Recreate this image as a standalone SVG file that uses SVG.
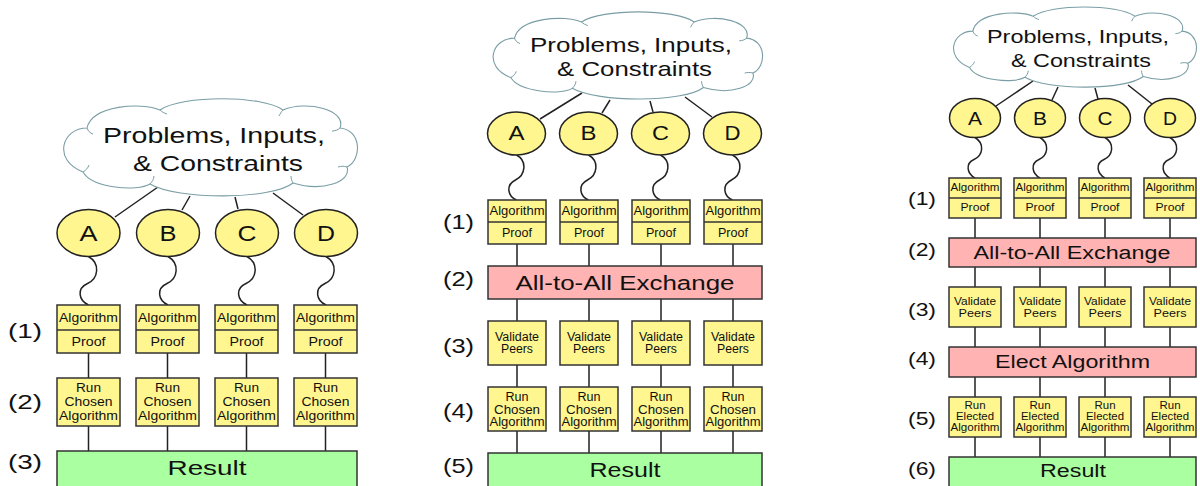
<svg xmlns="http://www.w3.org/2000/svg" xmlns:xlink="http://www.w3.org/1999/xlink" width="1200" height="486" viewBox="0 0 1200 486">
<style>
  text { font-family: "Liberation Sans", Arial, sans-serif; fill: #111; text-anchor: middle; }
  text.lbl { text-anchor: start; }
  .cloud { fill: #fff; stroke: #7a9ea6; stroke-width: 1.1; }
  .bump { fill: none; stroke: #7a9ea6; stroke-width: 1; }
  .circ { fill: #fff68f; stroke: #222; stroke-width: 1.5; }
  .box { fill: #fff68f; stroke: #333; stroke-width: 1.5; }
  .div { stroke: #333; stroke-width: 1.5; }
  .pink { fill: #ffb3b3; stroke: #333; stroke-width: 1.5; }
  .green { fill: #aaffa0; stroke: #333; stroke-width: 1.5; }
  .wire { stroke: #222; stroke-width: 1.5; fill: none; }
</style>
<defs>
  <g id="cloudShape">
    <path class="cloud" vector-effect="non-scaling-stroke" d="M30,28 C5,28 -5,60 26,72 C35,88 80,92 93,84 C120,100 215,100 236,83 C265,92 295,82 290,67 C305,60 305,30 283,28 C290,10 250,0 226,10 C205,-5 125,-5 103,10 C85,2 35,5 30,28 Z"/>
    <path class="bump" vector-effect="non-scaling-stroke" d="M30,28 c1,3 3,5 6,6 M93,84 c2,-2 4,-5 4,-8 M236,83 c-1,-2 -2,-4 -2,-7 M283,28 c-2,2 -5,3 -8,3 M226,10 c-2,2 -3,4 -4,6 M103,10 c2,2 4,3 7,4 M290,67 c-3,-1 -6,-1 -9,0 M26,72 c3,-2 5,-4 6,-7"/>
  </g>
</defs>

<!-- ===== Left flow ===== -->
<g id="p1-connectors">
  <path class="wire" d="M115,217 L158,187 M182,210 L190,196 M238,209 L235,197 M303,215 L273,193"/>
  <path class="wire" d="M88.5,256.5 c12,7 10,22 -1,27 c-11,5 -9,17 1,21.5"/>
  <path class="wire" d="M168,256.5 c12,7 10,22 -1,27 c-11,5 -9,17 1,21.5"/>
  <path class="wire" d="M247,256.5 c12,7 10,22 -1,27 c-11,5 -9,17 1,21.5"/>
  <path class="wire" d="M326,256.5 c12,7 10,22 -1,27 c-11,5 -9,17 1,21.5"/>
  <path class="wire" d="M88.5,353 V378 M167.5,353 V378 M246.5,353 V378 M325.5,353 V378"/>
  <path class="wire" d="M88.5,426 V451 M167.5,426 V451 M246.5,426 V451 M325.5,426 V451"/>
</g>
<g id="p1-cloud">
  <use xlink:href="#cloudShape" transform="translate(57,100)"/>
  <text x="214" y="143" font-size="22" textLength="222" lengthAdjust="spacingAndGlyphs">Problems, Inputs,</text>
  <text x="218" y="171" font-size="22" textLength="170" lengthAdjust="spacingAndGlyphs">&amp; Constraints</text>
</g>
<g id="p1-A"><ellipse class="circ" cx="88.5" cy="233" rx="31.5" ry="23.5"/><text x="88.5" y="241" font-size="22" textLength="18" lengthAdjust="spacingAndGlyphs">A</text></g>
<g id="p1-B"><ellipse class="circ" cx="168" cy="233" rx="31.5" ry="23.5"/><text x="168" y="241" font-size="22" textLength="17" lengthAdjust="spacingAndGlyphs">B</text></g>
<g id="p1-C"><ellipse class="circ" cx="247" cy="233" rx="31.5" ry="23.5"/><text x="247" y="241" font-size="22" textLength="19" lengthAdjust="spacingAndGlyphs">C</text></g>
<g id="p1-D"><ellipse class="circ" cx="326" cy="233" rx="31.5" ry="23.5"/><text x="326" y="241" font-size="22" textLength="18" lengthAdjust="spacingAndGlyphs">D</text></g>
<g id="p1-labels">
  <text class="lbl" x="8" y="338" font-size="21" textLength="34" lengthAdjust="spacingAndGlyphs">(1)</text>
  <text class="lbl" x="8" y="409" font-size="21" textLength="34" lengthAdjust="spacingAndGlyphs">(2)</text>
  <text class="lbl" x="8" y="469" font-size="21" textLength="34" lengthAdjust="spacingAndGlyphs">(3)</text>
</g>
<g id="p1-alg-A"><rect class="box" x="57" y="305" width="63" height="48"/><line class="div" x1="57" y1="330" x2="120" y2="330"/>
  <text x="88.5" y="322" font-size="12.5" textLength="59" lengthAdjust="spacingAndGlyphs">Algorithm</text><text x="88.5" y="346" font-size="12.5" textLength="34" lengthAdjust="spacingAndGlyphs">Proof</text></g>
<g id="p1-alg-B"><rect class="box" x="136" y="305" width="63" height="48"/><line class="div" x1="136" y1="330" x2="199" y2="330"/>
  <text x="167.5" y="322" font-size="12.5" textLength="59" lengthAdjust="spacingAndGlyphs">Algorithm</text><text x="167.5" y="346" font-size="12.5" textLength="34" lengthAdjust="spacingAndGlyphs">Proof</text></g>
<g id="p1-alg-C"><rect class="box" x="215" y="305" width="63" height="48"/><line class="div" x1="215" y1="330" x2="278" y2="330"/>
  <text x="246.5" y="322" font-size="12.5" textLength="59" lengthAdjust="spacingAndGlyphs">Algorithm</text><text x="246.5" y="346" font-size="12.5" textLength="34" lengthAdjust="spacingAndGlyphs">Proof</text></g>
<g id="p1-alg-D"><rect class="box" x="294" y="305" width="63" height="48"/><line class="div" x1="294" y1="330" x2="357" y2="330"/>
  <text x="325.5" y="322" font-size="12.5" textLength="59" lengthAdjust="spacingAndGlyphs">Algorithm</text><text x="325.5" y="346" font-size="12.5" textLength="34" lengthAdjust="spacingAndGlyphs">Proof</text></g>
<g id="p1-run-A"><rect class="box" x="57" y="378" width="63" height="48"/>
  <text x="88.5" y="392" font-size="12.5" textLength="25" lengthAdjust="spacingAndGlyphs">Run</text><text x="88.5" y="406" font-size="12.5" textLength="48" lengthAdjust="spacingAndGlyphs">Chosen</text><text x="88.5" y="420" font-size="12.5" textLength="59" lengthAdjust="spacingAndGlyphs">Algorithm</text></g>
<g id="p1-run-B"><rect class="box" x="136" y="378" width="63" height="48"/>
  <text x="167.5" y="392" font-size="12.5" textLength="25" lengthAdjust="spacingAndGlyphs">Run</text><text x="167.5" y="406" font-size="12.5" textLength="48" lengthAdjust="spacingAndGlyphs">Chosen</text><text x="167.5" y="420" font-size="12.5" textLength="59" lengthAdjust="spacingAndGlyphs">Algorithm</text></g>
<g id="p1-run-C"><rect class="box" x="215" y="378" width="63" height="48"/>
  <text x="246.5" y="392" font-size="12.5" textLength="25" lengthAdjust="spacingAndGlyphs">Run</text><text x="246.5" y="406" font-size="12.5" textLength="48" lengthAdjust="spacingAndGlyphs">Chosen</text><text x="246.5" y="420" font-size="12.5" textLength="59" lengthAdjust="spacingAndGlyphs">Algorithm</text></g>
<g id="p1-run-D"><rect class="box" x="294" y="378" width="63" height="48"/>
  <text x="325.5" y="392" font-size="12.5" textLength="25" lengthAdjust="spacingAndGlyphs">Run</text><text x="325.5" y="406" font-size="12.5" textLength="48" lengthAdjust="spacingAndGlyphs">Chosen</text><text x="325.5" y="420" font-size="12.5" textLength="59" lengthAdjust="spacingAndGlyphs">Algorithm</text></g>
<g id="p1-result"><rect class="green" x="57" y="451" width="300" height="45"/>
  <text x="207" y="475" font-size="21" textLength="79" lengthAdjust="spacingAndGlyphs">Result</text></g>

<!-- ===== Middle flow ===== -->
<g id="p2-connectors">
  <path class="wire" d="M540,119 L582,93 M602,113 L610,100 M653,112 L650,101 M712,117 L685,97"/>
  <path class="wire" d="M516.5,155 c11,6 9,20 -1,25 c-10,5 -8,16 1,20"/>
  <path class="wire" d="M588.5,155 c11,6 9,20 -1,25 c-10,5 -8,16 1,20"/>
  <path class="wire" d="M660.5,155 c11,6 9,20 -1,25 c-10,5 -8,16 1,20"/>
  <path class="wire" d="M732.5,155 c11,6 9,20 -1,25 c-10,5 -8,16 1,20"/>
  <path class="wire" d="M517,244 V266 M589,244 V266 M661,244 V266 M733,244 V266"/>
  <path class="wire" d="M517,299 V321 M589,299 V321 M661,299 V321 M733,299 V321"/>
  <path class="wire" d="M517,365 V387 M589,365 V387 M661,365 V387 M733,365 V387"/>
  <path class="wire" d="M517,431 V453 M589,431 V453 M661,431 V453 M733,431 V453"/>
</g>
<g id="p2-cloud">
  <use xlink:href="#cloudShape" transform="translate(487,13) scale(0.917,0.897)"/>
  <text x="631" y="52" font-size="21" textLength="202" lengthAdjust="spacingAndGlyphs">Problems, Inputs,</text>
  <text x="634.5" y="76" font-size="21" textLength="155" lengthAdjust="spacingAndGlyphs">&amp; Constraints</text>
</g>
<g id="p2-A"><ellipse class="circ" cx="516.5" cy="133.5" rx="29" ry="21.5"/><text x="516.5" y="140" font-size="20" textLength="16" lengthAdjust="spacingAndGlyphs">A</text></g>
<g id="p2-B"><ellipse class="circ" cx="588.5" cy="133.5" rx="29" ry="21.5"/><text x="588.5" y="140" font-size="20" textLength="16" lengthAdjust="spacingAndGlyphs">B</text></g>
<g id="p2-C"><ellipse class="circ" cx="660.5" cy="133.5" rx="29" ry="21.5"/><text x="660.5" y="140" font-size="20" textLength="17" lengthAdjust="spacingAndGlyphs">C</text></g>
<g id="p2-D"><ellipse class="circ" cx="732.5" cy="133.5" rx="29" ry="21.5"/><text x="732.5" y="140" font-size="20" textLength="16" lengthAdjust="spacingAndGlyphs">D</text></g>
<g id="p2-labels">
  <text class="lbl" x="443" y="229" font-size="20" textLength="31" lengthAdjust="spacingAndGlyphs">(1)</text>
  <text class="lbl" x="443" y="286" font-size="20" textLength="31" lengthAdjust="spacingAndGlyphs">(2)</text>
  <text class="lbl" x="443" y="353" font-size="20" textLength="31" lengthAdjust="spacingAndGlyphs">(3)</text>
  <text class="lbl" x="443" y="418" font-size="20" textLength="31" lengthAdjust="spacingAndGlyphs">(4)</text>
  <text class="lbl" x="443" y="473" font-size="20" textLength="31" lengthAdjust="spacingAndGlyphs">(5)</text>
</g>
<g id="p2-alg-A"><rect class="box" x="488" y="200" width="58" height="44"/><line class="div" x1="488" y1="222" x2="546" y2="222"/>
  <text x="517" y="215" font-size="12" textLength="55" lengthAdjust="spacingAndGlyphs">Algorithm</text><text x="517" y="237" font-size="12" textLength="30" lengthAdjust="spacingAndGlyphs">Proof</text></g>
<g id="p2-alg-B"><rect class="box" x="560" y="200" width="58" height="44"/><line class="div" x1="560" y1="222" x2="618" y2="222"/>
  <text x="589" y="215" font-size="12" textLength="55" lengthAdjust="spacingAndGlyphs">Algorithm</text><text x="589" y="237" font-size="12" textLength="30" lengthAdjust="spacingAndGlyphs">Proof</text></g>
<g id="p2-alg-C"><rect class="box" x="632" y="200" width="58" height="44"/><line class="div" x1="632" y1="222" x2="690" y2="222"/>
  <text x="661" y="215" font-size="12" textLength="55" lengthAdjust="spacingAndGlyphs">Algorithm</text><text x="661" y="237" font-size="12" textLength="30" lengthAdjust="spacingAndGlyphs">Proof</text></g>
<g id="p2-alg-D"><rect class="box" x="704" y="200" width="58" height="44"/><line class="div" x1="704" y1="222" x2="762" y2="222"/>
  <text x="733" y="215" font-size="12" textLength="55" lengthAdjust="spacingAndGlyphs">Algorithm</text><text x="733" y="237" font-size="12" textLength="30" lengthAdjust="spacingAndGlyphs">Proof</text></g>
<g id="p2-exchange"><rect class="pink" x="488" y="266" width="274" height="33"/>
  <text x="625" y="290" font-size="20" textLength="219" lengthAdjust="spacingAndGlyphs">All-to-All Exchange</text></g>
<g id="p2-val-A"><rect class="box" x="488" y="321" width="58" height="44"/>
  <text x="517" y="341" font-size="12" textLength="44" lengthAdjust="spacingAndGlyphs">Validate</text><text x="517" y="353" font-size="12" textLength="32" lengthAdjust="spacingAndGlyphs">Peers</text></g>
<g id="p2-val-B"><rect class="box" x="560" y="321" width="58" height="44"/>
  <text x="589" y="341" font-size="12" textLength="44" lengthAdjust="spacingAndGlyphs">Validate</text><text x="589" y="353" font-size="12" textLength="32" lengthAdjust="spacingAndGlyphs">Peers</text></g>
<g id="p2-val-C"><rect class="box" x="632" y="321" width="58" height="44"/>
  <text x="661" y="341" font-size="12" textLength="44" lengthAdjust="spacingAndGlyphs">Validate</text><text x="661" y="353" font-size="12" textLength="32" lengthAdjust="spacingAndGlyphs">Peers</text></g>
<g id="p2-val-D"><rect class="box" x="704" y="321" width="58" height="44"/>
  <text x="733" y="341" font-size="12" textLength="44" lengthAdjust="spacingAndGlyphs">Validate</text><text x="733" y="353" font-size="12" textLength="32" lengthAdjust="spacingAndGlyphs">Peers</text></g>
<g id="p2-run-A"><rect class="box" x="488" y="387" width="58" height="44"/>
  <text x="517" y="401" font-size="12" textLength="23" lengthAdjust="spacingAndGlyphs">Run</text><text x="517" y="413.5" font-size="12" textLength="46" lengthAdjust="spacingAndGlyphs">Chosen</text><text x="517" y="426" font-size="12" textLength="55" lengthAdjust="spacingAndGlyphs">Algorithm</text></g>
<g id="p2-run-B"><rect class="box" x="560" y="387" width="58" height="44"/>
  <text x="589" y="401" font-size="12" textLength="23" lengthAdjust="spacingAndGlyphs">Run</text><text x="589" y="413.5" font-size="12" textLength="46" lengthAdjust="spacingAndGlyphs">Chosen</text><text x="589" y="426" font-size="12" textLength="55" lengthAdjust="spacingAndGlyphs">Algorithm</text></g>
<g id="p2-run-C"><rect class="box" x="632" y="387" width="58" height="44"/>
  <text x="661" y="401" font-size="12" textLength="23" lengthAdjust="spacingAndGlyphs">Run</text><text x="661" y="413.5" font-size="12" textLength="46" lengthAdjust="spacingAndGlyphs">Chosen</text><text x="661" y="426" font-size="12" textLength="55" lengthAdjust="spacingAndGlyphs">Algorithm</text></g>
<g id="p2-run-D"><rect class="box" x="704" y="387" width="58" height="44"/>
  <text x="733" y="401" font-size="12" textLength="23" lengthAdjust="spacingAndGlyphs">Run</text><text x="733" y="413.5" font-size="12" textLength="46" lengthAdjust="spacingAndGlyphs">Chosen</text><text x="733" y="426" font-size="12" textLength="55" lengthAdjust="spacingAndGlyphs">Algorithm</text></g>
<g id="p2-result"><rect class="green" x="488" y="453" width="274" height="45"/>
  <text x="625" y="477" font-size="20" textLength="71" lengthAdjust="spacingAndGlyphs">Result</text></g>

<!-- ===== Right flow ===== -->
<g id="p3-connectors">
  <path class="wire" d="M996,106 L1033,81 M1052,100 L1058,87 M1098,99 L1095,88 M1152,104 L1128,85"/>
  <path class="wire" d="M975,137.5 c10,6 8,18 -1,22 c-9,4 -7,14 1,18.5"/>
  <path class="wire" d="M1040,137.5 c10,6 8,18 -1,22 c-9,4 -7,14 1,18.5"/>
  <path class="wire" d="M1105,137.5 c10,6 8,18 -1,22 c-9,4 -7,14 1,18.5"/>
  <path class="wire" d="M1170,137.5 c10,6 8,18 -1,22 c-9,4 -7,14 1,18.5"/>
  <path class="wire" d="M975,218 V238 M1040,218 V238 M1105,218 V238 M1170,218 V238"/>
  <path class="wire" d="M975,267 V287 M1040,267 V287 M1105,267 V287 M1170,267 V287"/>
  <path class="wire" d="M975,327 V347 M1040,327 V347 M1105,327 V347 M1170,327 V347"/>
  <path class="wire" d="M975,377 V397 M1040,377 V397 M1105,377 V397 M1170,377 V397"/>
  <path class="wire" d="M975,437 V457 M1040,437 V457 M1105,437 V457 M1170,437 V457"/>
</g>
<g id="p3-cloud">
  <use xlink:href="#cloudShape" transform="translate(948,8) scale(0.827,0.825)"/>
  <text x="1078" y="43" font-size="18.5" textLength="182" lengthAdjust="spacingAndGlyphs">Problems, Inputs,</text>
  <text x="1081" y="67" font-size="18.5" textLength="140" lengthAdjust="spacingAndGlyphs">&amp; Constraints</text>
</g>
<g id="p3-A"><ellipse class="circ" cx="975" cy="118" rx="25.5" ry="19.5"/><text x="975" y="124.5" font-size="17.5" textLength="14" lengthAdjust="spacingAndGlyphs">A</text></g>
<g id="p3-B"><ellipse class="circ" cx="1040" cy="118" rx="25.5" ry="19.5"/><text x="1040" y="124.5" font-size="17.5" textLength="14" lengthAdjust="spacingAndGlyphs">B</text></g>
<g id="p3-C"><ellipse class="circ" cx="1105" cy="118" rx="25.5" ry="19.5"/><text x="1105" y="124.5" font-size="17.5" textLength="15" lengthAdjust="spacingAndGlyphs">C</text></g>
<g id="p3-D"><ellipse class="circ" cx="1170" cy="118" rx="25.5" ry="19.5"/><text x="1170" y="124.5" font-size="17.5" textLength="14" lengthAdjust="spacingAndGlyphs">D</text></g>
<g id="p3-labels">
  <text class="lbl" x="908" y="205" font-size="18" textLength="28" lengthAdjust="spacingAndGlyphs">(1)</text>
  <text class="lbl" x="908" y="256" font-size="18" textLength="28" lengthAdjust="spacingAndGlyphs">(2)</text>
  <text class="lbl" x="908" y="316" font-size="18" textLength="28" lengthAdjust="spacingAndGlyphs">(3)</text>
  <text class="lbl" x="908" y="365" font-size="18" textLength="28" lengthAdjust="spacingAndGlyphs">(4)</text>
  <text class="lbl" x="908" y="425" font-size="18" textLength="28" lengthAdjust="spacingAndGlyphs">(5)</text>
  <text class="lbl" x="908" y="475" font-size="18" textLength="28" lengthAdjust="spacingAndGlyphs">(6)</text>
</g>
<g id="p3-alg-A"><rect class="box" x="949" y="178" width="52" height="40"/><line class="div" x1="949" y1="198" x2="1001" y2="198"/>
  <text x="975" y="191" font-size="11" textLength="49" lengthAdjust="spacingAndGlyphs">Algorithm</text><text x="975" y="211" font-size="11" textLength="29" lengthAdjust="spacingAndGlyphs">Proof</text></g>
<g id="p3-alg-B"><rect class="box" x="1014" y="178" width="52" height="40"/><line class="div" x1="1014" y1="198" x2="1066" y2="198"/>
  <text x="1040" y="191" font-size="11" textLength="49" lengthAdjust="spacingAndGlyphs">Algorithm</text><text x="1040" y="211" font-size="11" textLength="29" lengthAdjust="spacingAndGlyphs">Proof</text></g>
<g id="p3-alg-C"><rect class="box" x="1079" y="178" width="52" height="40"/><line class="div" x1="1079" y1="198" x2="1131" y2="198"/>
  <text x="1105" y="191" font-size="11" textLength="49" lengthAdjust="spacingAndGlyphs">Algorithm</text><text x="1105" y="211" font-size="11" textLength="29" lengthAdjust="spacingAndGlyphs">Proof</text></g>
<g id="p3-alg-D"><rect class="box" x="1144" y="178" width="52" height="40"/><line class="div" x1="1144" y1="198" x2="1196" y2="198"/>
  <text x="1170" y="191" font-size="11" textLength="49" lengthAdjust="spacingAndGlyphs">Algorithm</text><text x="1170" y="211" font-size="11" textLength="29" lengthAdjust="spacingAndGlyphs">Proof</text></g>
<g id="p3-exchange"><rect class="pink" x="949" y="238" width="247" height="29"/>
  <text x="1072" y="259" font-size="18" textLength="197" lengthAdjust="spacingAndGlyphs">All-to-All Exchange</text></g>
<g id="p3-val-A"><rect class="box" x="949" y="287" width="52" height="40"/>
  <text x="975" y="305" font-size="11" textLength="42" lengthAdjust="spacingAndGlyphs">Validate</text><text x="975" y="316.5" font-size="11" textLength="33" lengthAdjust="spacingAndGlyphs">Peers</text></g>
<g id="p3-val-B"><rect class="box" x="1014" y="287" width="52" height="40"/>
  <text x="1040" y="305" font-size="11" textLength="42" lengthAdjust="spacingAndGlyphs">Validate</text><text x="1040" y="316.5" font-size="11" textLength="33" lengthAdjust="spacingAndGlyphs">Peers</text></g>
<g id="p3-val-C"><rect class="box" x="1079" y="287" width="52" height="40"/>
  <text x="1105" y="305" font-size="11" textLength="42" lengthAdjust="spacingAndGlyphs">Validate</text><text x="1105" y="316.5" font-size="11" textLength="33" lengthAdjust="spacingAndGlyphs">Peers</text></g>
<g id="p3-val-D"><rect class="box" x="1144" y="287" width="52" height="40"/>
  <text x="1170" y="305" font-size="11" textLength="42" lengthAdjust="spacingAndGlyphs">Validate</text><text x="1170" y="316.5" font-size="11" textLength="33" lengthAdjust="spacingAndGlyphs">Peers</text></g>
<g id="p3-elect"><rect class="pink" x="949" y="347" width="247" height="30"/>
  <text x="1072.5" y="368" font-size="18" textLength="155" lengthAdjust="spacingAndGlyphs">Elect Algorithm</text></g>
<g id="p3-run-A"><rect class="box" x="949" y="397" width="52" height="40"/>
  <text x="975" y="409" font-size="11" textLength="21" lengthAdjust="spacingAndGlyphs">Run</text><text x="975" y="420" font-size="11" textLength="38" lengthAdjust="spacingAndGlyphs">Elected</text><text x="975" y="431" font-size="11" textLength="49" lengthAdjust="spacingAndGlyphs">Algorithm</text></g>
<g id="p3-run-B"><rect class="box" x="1014" y="397" width="52" height="40"/>
  <text x="1040" y="409" font-size="11" textLength="21" lengthAdjust="spacingAndGlyphs">Run</text><text x="1040" y="420" font-size="11" textLength="38" lengthAdjust="spacingAndGlyphs">Elected</text><text x="1040" y="431" font-size="11" textLength="49" lengthAdjust="spacingAndGlyphs">Algorithm</text></g>
<g id="p3-run-C"><rect class="box" x="1079" y="397" width="52" height="40"/>
  <text x="1105" y="409" font-size="11" textLength="21" lengthAdjust="spacingAndGlyphs">Run</text><text x="1105" y="420" font-size="11" textLength="38" lengthAdjust="spacingAndGlyphs">Elected</text><text x="1105" y="431" font-size="11" textLength="49" lengthAdjust="spacingAndGlyphs">Algorithm</text></g>
<g id="p3-run-D"><rect class="box" x="1144" y="397" width="52" height="40"/>
  <text x="1170" y="409" font-size="11" textLength="21" lengthAdjust="spacingAndGlyphs">Run</text><text x="1170" y="420" font-size="11" textLength="38" lengthAdjust="spacingAndGlyphs">Elected</text><text x="1170" y="431" font-size="11" textLength="49" lengthAdjust="spacingAndGlyphs">Algorithm</text></g>
<g id="p3-result"><rect class="green" x="949" y="457" width="247" height="40"/>
  <text x="1073" y="477" font-size="18" textLength="66" lengthAdjust="spacingAndGlyphs">Result</text></g>
</svg>
